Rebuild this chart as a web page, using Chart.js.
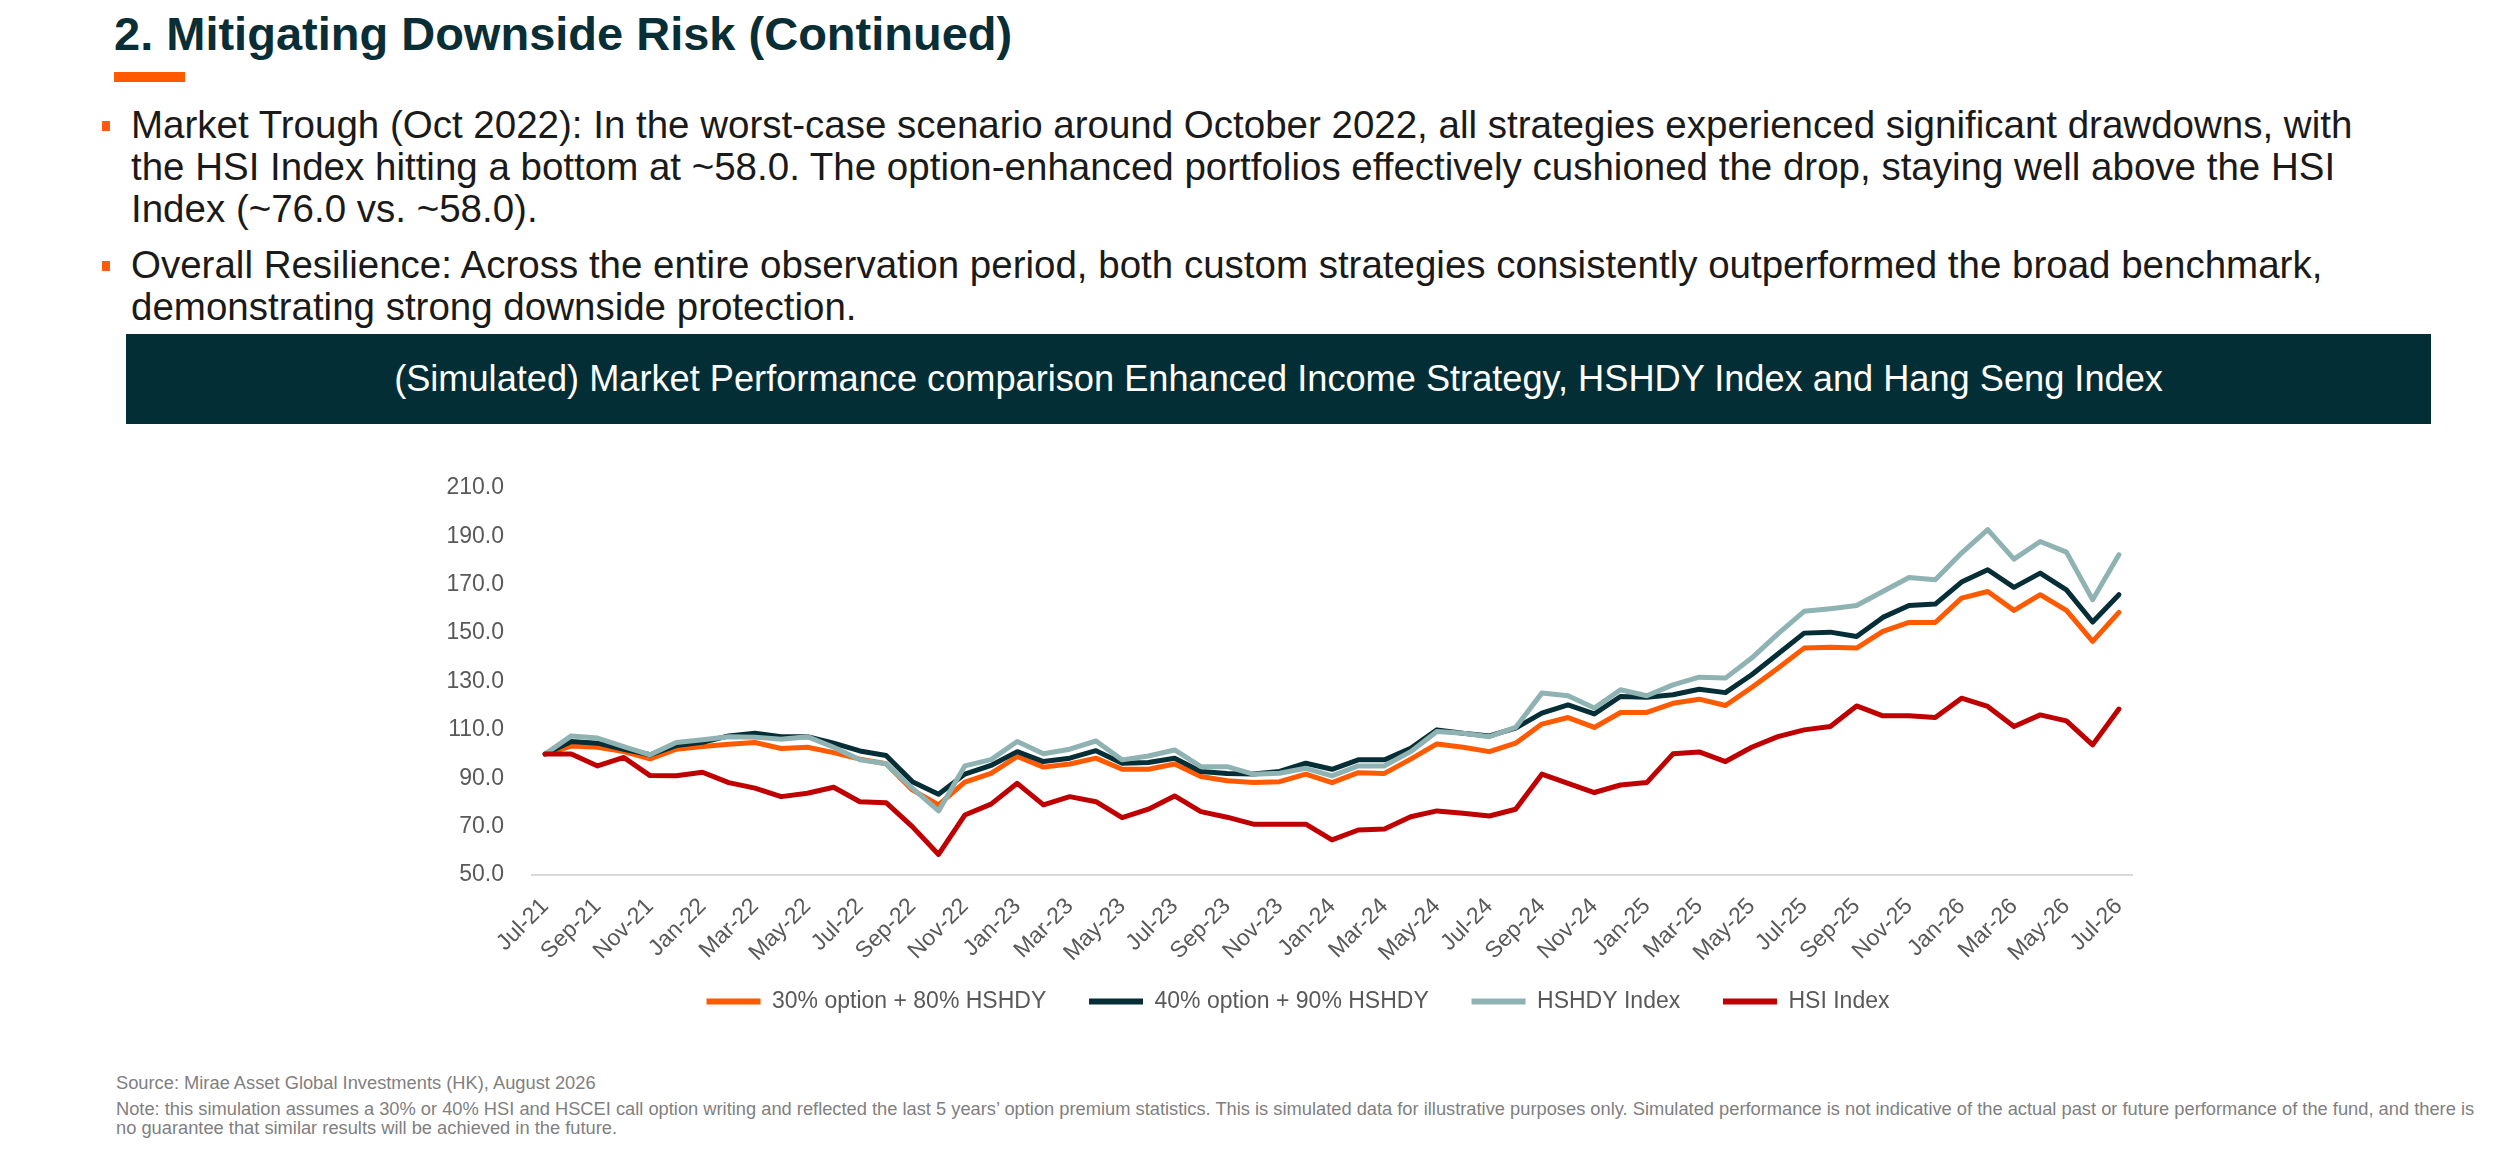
<!DOCTYPE html>
<html>
<head>
<meta charset="utf-8">
<script src="https://cdn.jsdelivr.net/npm/chart.js@4.4.1/dist/chart.umd.min.js"></script>
<style>
  html, body { margin: 0; padding: 0; background: #ffffff; }
  body { width: 2500px; height: 1152px; position: relative; overflow: hidden; font-family: "Liberation Sans", Arial, sans-serif; }
  .abs { position: absolute; white-space: nowrap; }
  #title { left: 114px; top: 10px; font-size: 47px; line-height: 47px; font-weight: bold; color: #0a2e36; }
  #bar { left: 114px; top: 72px; width: 71px; height: 10px; background: #ff5a00; }
  .bullet { position: absolute; width: 8px; height: 10px; background: #ff5a0f; }
  .para { font-size: 38.5px; line-height: 42px; color: #1a1a1a; }
  #banner { left: 126px; top: 334px; width: 2305px; height: 90px; background: #032e36; color: #ffffff; font-size: 36.2px; line-height: 90px; text-align: center; }
  .foot { font-size: 18.3px; line-height: 19px; color: #7f7f7f; }
  #chartWrap { position: absolute; left: 400px; top: 440px; width: 1796px; height: 583px; }
</style>
</head>
<body>
<div id="title" class="abs">2. Mitigating Downside Risk (Continued)</div>
<div id="bar" class="abs"></div>

<div class="bullet" style="left:102px;top:121px;"></div>
<div class="abs para" style="left:131px;top:104px;">Market Trough (Oct 2022): In the worst-case scenario around October 2022, all strategies experienced significant drawdowns, with<br>the HSI Index hitting a bottom at ~58.0. The option-enhanced portfolios effectively cushioned the drop, staying well above the HSI<br>Index (~76.0 vs. ~58.0).</div>
<div class="bullet" style="left:102px;top:261px;"></div>
<div class="abs para" style="left:131px;top:244px;">Overall Resilience: Across the entire observation period, both custom strategies consistently outperformed the broad benchmark,<br>demonstrating strong downside protection.</div>

<div id="banner" class="abs">(Simulated) Market Performance comparison Enhanced Income Strategy, HSHDY Index and Hang Seng Index</div>

<div id="chartWrap"><canvas id="c"></canvas></div>

<div class="abs foot" style="left:116px;top:1073px;">Source: Mirae Asset Global Investments (HK), August 2026</div>
<div class="abs foot" style="left:116px;top:1099px;">Note: this simulation assumes a 30% or 40% HSI and HSCEI call option writing and reflected the last 5 years’ option premium statistics. This is simulated data for illustrative purposes only. Simulated performance is not indicative of the actual past or future performance of the fund, and there is<br>no guarantee that similar results will be achieved in the future.</div>

<script>
// ---- Data ----
const months = [
  "Jul-21","Aug-21","Sep-21","Oct-21","Nov-21","Dec-21",
  "Jan-22","Feb-22","Mar-22","Apr-22","May-22","Jun-22","Jul-22","Aug-22","Sep-22","Oct-22","Nov-22","Dec-22",
  "Jan-23","Feb-23","Mar-23","Apr-23","May-23","Jun-23","Jul-23","Aug-23","Sep-23","Oct-23","Nov-23","Dec-23",
  "Jan-24","Feb-24","Mar-24","Apr-24","May-24","Jun-24","Jul-24","Aug-24","Sep-24","Oct-24","Nov-24","Dec-24",
  "Jan-25","Feb-25","Mar-25","Apr-25","May-25","Jun-25","Jul-25","Aug-25","Sep-25","Oct-25","Nov-25","Dec-25",
  "Jan-26","Feb-26","Mar-26","Apr-26","May-26","Jun-26","Jul-26"
];
const seriesNames = ["30% option + 80% HSHDY", "40% option + 90% HSHDY", "HSHDY Index", "HSI Index"];
const opt30 = [100,103.3,102.8,101,98,102,103.1,104.1,104.8,102.3,102.8,100.6,97.9,96,85.2,79,88.4,92,
  99,94.6,95.9,98.3,93.7,93.7,95.9,90.7,89,88.2,88.6,91.7,
  88.2,92.3,92,97.9,104.2,102.8,101,104.5,112.4,115.1,111,117.2,
  117.2,121,122.7,120.1,127.5,135.5,143.8,144.2,143.8,150.7,154.4,154.4,
  164.5,167.2,159.4,165.9,159.4,146.6,158.6];
const opt40 = [100,105.2,104.5,102,99.7,103.5,104.9,107.5,108.6,107.2,107.2,104.5,101.3,99.4,88.6,83.4,91.7,95.3,
  101,96.9,98.3,101.4,96.2,96.5,98.3,92.8,92,91.8,92.8,96.2,
  93.7,97.6,97.6,102.4,110,108.6,107.5,110.7,116.9,120.3,116.6,123.8,
  123.5,124.5,126.8,125.4,132.8,141.4,150,150.4,148.6,156.5,161.4,162,
  171.1,176.2,168.9,174.8,167.9,154.6,165.9];
const hshdy = [100,107.5,106.6,103.1,99.7,104.8,105.9,107.2,107,106.1,107.2,102.8,97.6,96,85.9,76.5,95.1,97.7,
  105.2,100.1,102,105.4,97.6,99.2,101.7,94.8,94.8,91.7,92.1,94.1,
  91,95.1,95.1,101,109.3,108.6,107.2,111,125.2,124.1,119,126.6,
  124.1,128.6,131.8,131.4,139.7,149.7,159,160.1,161.4,167.2,173,172.1,
  183.1,192.8,180.6,187.9,183.5,163.8,182.4];
const hsi = [100,100,95.1,98.6,91.1,91,92.5,88.2,85.9,82.4,83.8,86.3,80.3,79.9,70,58.5,74.8,79.3,
  87.9,79,82.4,80.3,73.7,77.2,82.7,76.2,73.9,71,71,71,
  64.5,68.6,69,74.1,76.5,75.5,74.4,77.2,91.7,87.9,84.1,87.2,
  88.2,100.1,100.9,96.9,102.8,107.2,110,111.4,119.9,115.8,115.8,115.1,
  123.1,119.7,111.4,116.2,113.7,103.8,118.6];
const yTicks = [50, 70, 90, 110, 130, 150, 170, 190, 210];

// ---- Styles ----
const colors = ["#ff5a00", "#062e36", "#8fb3b2", "#c00000"];
const drawOrder = [4, 3, 2, 1];
const values = [opt30, opt40, hshdy, hsi];

Chart.defaults.font.family = '"Liberation Sans", Arial, sans-serif';

const datasets = seriesNames.map((name, i) => ({
  label: name,
  data: values[i],
  borderColor: colors[i],
  backgroundColor: colors[i],
  borderWidth: 5,
  pointRadius: 0,
  pointHoverRadius: 0,
  tension: 0,
  borderJoinStyle: 'round',
  borderCapStyle: 'round',
  order: drawOrder[i],
  yAxisID: 'y'
}));

new Chart(document.getElementById('c'), {
  type: 'line',
  data: { labels: months, datasets: datasets },
  options: {
    responsive: true,
    maintainAspectRatio: false,
    animation: false,
    devicePixelRatio: 1,
    layout: { padding: { left: 0, right: 0, top: 48, bottom: 0 } },
    plugins: {
      tooltip: { enabled: false },
      legend: {
        position: 'bottom',
        labels: {
          boxWidth: 54,
          boxHeight: 6,
          padding: 30,
          color: '#595959',
          font: { size: 23 },
          sort: (a, b) => a.datasetIndex - b.datasetIndex,
          generateLabels: (chart) => {
            const items = Chart.defaults.plugins.legend.labels.generateLabels(chart);
            items.forEach((it, k) => {
              it.lineWidth = 0;
              it.fillStyle = colors[it.datasetIndex];
              if (it.datasetIndex < seriesNames.length - 1) it.text = it.text + '  ';
            });
            return items;
          }
        }
      }
    },
    scales: {
      x: {
        type: 'category',
        offset: true,
        grid: { display: false, drawTicks: false },
        border: { display: true, color: '#d9d9d9', width: 2 },
        ticks: {
          autoSkip: false,
          maxRotation: 45,
          minRotation: 45,
          padding: 18,
          color: '#595959',
          font: { size: 23 },
          callback: function(value, index) { return index % 2 === 0 ? months[index] : ''; }
        },
        afterFit: (scale) => { scale.height = 85; }
      },
      y: {
        position: 'left',
        min: yTicks[0],
        max: yTicks[yTicks.length - 1],
        grid: { display: false, drawTicks: false },
        border: { display: false },
        afterBuildTicks: (scale) => { scale.ticks = yTicks.map(v => ({ value: v })); },
        ticks: {
          padding: 28,
          color: '#595959',
          font: { size: 23 },
          callback: (v) => Number(v).toFixed(1)
        },
        afterFit: (scale) => { scale.width = 132; }
      },
      yRight: {
        position: 'right',
        display: true,
        grid: { display: false, drawTicks: false },
        border: { display: false },
        ticks: { display: false },
        afterFit: (scale) => { scale.width = 64; }
      }
    }
  }
});
</script>
</body>
</html>
